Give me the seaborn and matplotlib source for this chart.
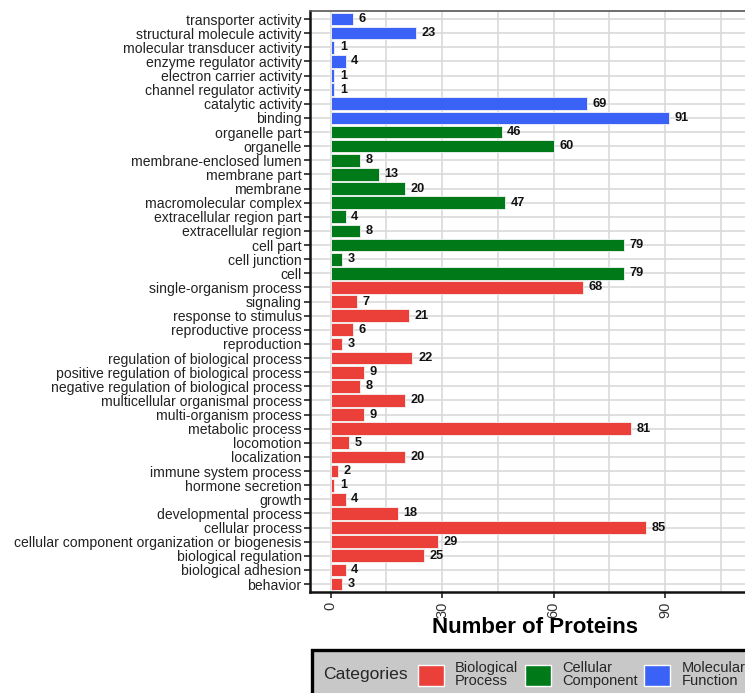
import matplotlib
matplotlib.use("Agg")
import matplotlib.pyplot as plt
import seaborn as sns
import pandas as pd
from matplotlib.patches import Patch
from matplotlib.offsetbox import HPacker

# GO terms, top to bottom
mf_terms = ["transporter activity", "structural molecule activity",
            "molecular transducer activity", "enzyme regulator activity",
            "electron carrier activity", "channel regulator activity",
            "catalytic activity", "binding"]
mf_counts = [6, 23, 1, 4, 1, 1, 69, 91]

cc_terms = ["organelle part", "organelle", "membrane-enclosed lumen",
            "membrane part", "membrane", "macromolecular complex",
            "extracellular region part", "extracellular region", "cell part",
            "cell junction", "cell"]
cc_counts = [46, 60, 8, 13, 20, 47, 4, 8, 79, 3, 79]

bp_terms = ["single-organism process", "signaling", "response to stimulus",
            "reproductive process", "reproduction",
            "regulation of biological process",
            "positive regulation of biological process",
            "negative regulation of biological process",
            "multicellular organismal process", "multi-organism process",
            "metabolic process", "locomotion", "localization",
            "immune system process", "hormone secretion", "growth",
            "developmental process", "cellular process",
            "cellular component organization or biogenesis",
            "biological regulation", "biological adhesion", "behavior"]
bp_counts = [68, 7, 21, 6, 3, 22, 9, 8, 20, 9, 81, 5, 20, 2, 1, 4, 18, 85,
             29, 25, 4, 3]

category_names = ["Biological Process", "Cellular Component", "Molecular Function"]
category_labels = ["Biological\nProcess", "Cellular\nComponent", "Molecular\nFunction"]
category_colors = ["#EA4039", "#007A18", "#3A62F7"]
x_ticks = [0, 30, 60, 90]

df = pd.DataFrame({
    "term": mf_terms + cc_terms + bp_terms,
    "count": mf_counts + cc_counts + bp_counts,
    "category": (["Molecular Function"] * len(mf_terms)
                 + ["Cellular Component"] * len(cc_terms)
                 + ["Biological Process"] * len(bp_terms)),
})

sns.set_theme(style="white")
plt.rcParams["font.family"] = ["Liberation Sans", "DejaVu Sans"]

fig = plt.figure(figsize=(7.45, 6.93), dpi=100)
ax = fig.add_axes([0.4161, 0.1457, 0.5900, 0.8384])

palette = dict(zip(category_names, category_colors))
sns.barplot(data=df, x="count", y="term", hue="category", order=df["term"],
            hue_order=category_names, palette=palette, dodge=False,
            orient="h", width=0.9, saturation=1, edgecolor="#f4f4f4",
            linewidth=0.6, legend=False, ax=ax, zorder=3)

for cont in ax.containers:
    ax.bar_label(cont, padding=4, fontsize=9.2, fontweight="bold",
                 color="#111111")

n = len(df)
ax.set_xlim(-5.6, 112.8)
ax.set_ylim(n - 1 + 0.566, -0.566)

ax.set_xticks(x_ticks)
ax.set_xticks([15, 45, 75, 105], minor=True)
ax.set_xticklabels([str(t) for t in x_ticks], rotation=90, fontsize=10.5,
                   color="#333333")
ax.tick_params(axis="x", which="major", length=4, width=1.2, color="#222222",
               pad=3, bottom=True)
ax.tick_params(axis="x", which="minor", length=0)
ax.tick_params(axis="y", length=4, width=1.2, color="#222222", pad=2,
               labelsize=10.1, left=True, labelcolor="#222222")

ax.grid(True, which="both", axis="x", color="#dadada", linewidth=1.2, zorder=0)
ax.grid(True, which="major", axis="y", color="#dadada", linewidth=1.2, zorder=0)
ax.set_axisbelow(True)

for side in ["left", "bottom"]:
    ax.spines[side].set_color("#111111")
    ax.spines[side].set_linewidth(1.8)
ax.spines["top"].set_color("#555555")
ax.spines["top"].set_linewidth(1.2)
ax.spines["right"].set_visible(False)

ax.set_ylabel("")
ax.set_xlabel("Number of Proteins", fontsize=16.0, fontweight="bold",
              color="black")
ax.xaxis.set_label_coords(0.512, -0.043)
ax.xaxis.label.set_va("top")

# Legend with title on the left of the keys
handles = [Patch(facecolor=c, edgecolor="white", linewidth=1.0)
           for c in category_colors]
leg = fig.legend(handles, category_labels, title="Categories", ncol=3,
                 loc="upper left", bbox_to_anchor=(312 / 745, 1 - 650 / 693),
                 frameon=True, fancybox=False, fontsize=10.5,
                 title_fontsize=12.6, handlelength=1.8, handleheight=1.8,
                 handletextpad=0.75, columnspacing=0.45, borderpad=0.75,
                 labelspacing=0.3, borderaxespad=0)
frame = leg.get_frame()
frame.set_facecolor("#c8c8c8")
frame.set_edgecolor("#000000")
frame.set_linewidth(2.4)
frame.set_alpha(1)
for t in leg.get_texts():
    t.set_linespacing(0.9)

fs = leg._fontsize
children = leg._legend_box.get_children()
new_box = HPacker(pad=leg.borderpad * fs, sep=0.7 * fs, align="center",
                  children=children)
new_box.set_figure(fig)
new_box.set_offset(leg._findoffset)
leg._legend_box = new_box

fig.savefig("out.png", dpi=100)
